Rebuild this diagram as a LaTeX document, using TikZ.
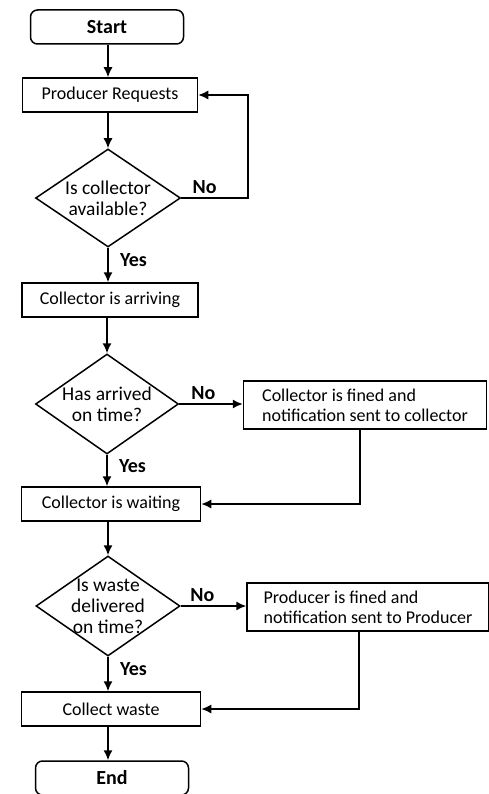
\documentclass[tikz,border=0pt]{standalone}
\usepackage{fontspec}
\setmainfont{Carlito}
\usetikzlibrary{shapes.geometric,arrows.meta}
\begin{document}
\begin{tikzpicture}[x=1pt,y=-1pt,
  box/.style={draw,line width=1.5pt,minimum height=34pt,inner sep=2pt,font=\fontsize{18}{20}\selectfont},
  term/.style={box,rounded corners=7pt,minimum width=153pt,font=\fontsize{20}{22}\selectfont\bfseries},
  note/.style={box,minimum height=48pt,align=left,font=\fontsize{18}{20}\selectfont},
  dec/.style={draw,diamond,line width=1.5pt,inner sep=0pt},
  dtext/.style={align=center,font=\fontsize{19.5}{21}\selectfont},
  lab/.style={font=\fontsize{20}{22}\selectfont\bfseries},
  arr/.style={->,>={Latex[length=10pt,width=9pt]},line width=1.5pt}]
\useasboundingbox (0,0) rectangle (489,794);
\node[term] (B0) at (107,27) {Start};
\node[box,minimum width=175pt] (B1) at (110,95) {Producer Requests};
\node[dec,minimum width=145pt,minimum height=98pt,label={[dtext]center:Is collector\\available?}] (D1) at (108,198) {};
\node[box,minimum width=176pt] (B2) at (110,300) {Collector is arriving};
\node[dec,minimum width=143pt,minimum height=100pt,label={[dtext]center:Has arrived\\on time?}] (D2) at (107,404) {};
\node[note,minimum width=243pt] (F1) at (365,405) {Collector is fined and\\notification sent to collector};
\node[box,minimum width=179pt] (B3) at (111,504) {Collector is waiting};
\node[dec,minimum width=144pt,minimum height=100pt,label={[dtext]center:Is waste\\delivered\\on time?}] (D3) at (108,606) {};
\node[note,minimum width=242pt] (F2) at (368,607) {Producer is fined and\\notification sent to Producer};
\node[box,minimum width=179pt] (B4) at (111,709) {Collect waste};
\node[term] (B5) at (112,778) {End};
\coordinate (C1) at (248,198);
\draw[arr] (B0.south -| D1.north) -- (B1.north -| D1.north);
\draw[arr] (B1.south -| D1.north) -- (D1.north);
\draw[arr] (D1.east) -- node[lab,pos=0.35,above]{No} (C1) |- (B1.east);
\draw[arr] (D1.south) -- node[lab,pos=0.35,right=8pt]{Yes} (B2.north -| D1.south);
\draw[arr] (B2.south -| D2.north) -- (D2.north);
\draw[arr] (D2.east) -- node[lab,pos=0.38,above]{No} (F1.west |- D2.east);
\draw[arr] (D2.south) -- node[lab,pos=0.35,right=8pt]{Yes} (B3.north -| D2.south);
\draw[arr] ([xshift=-5pt]F1.south) |- (B3.east);
\draw[arr] (B3.south -| D3.north) -- (D3.north);
\draw[arr] (D3.east) -- node[lab,pos=0.33,above]{No} (F2.west |- D3.east);
\draw[arr] (D3.south) -- node[lab,pos=0.35,right=8pt]{Yes} (B4.north -| D3.south);
\draw[arr] ([xshift=-9pt]F2.south) |- (B4.east);
\draw[arr] (B4.south -| D3.south) -- (B5.north -| D3.south);
\end{tikzpicture}
\end{document}
